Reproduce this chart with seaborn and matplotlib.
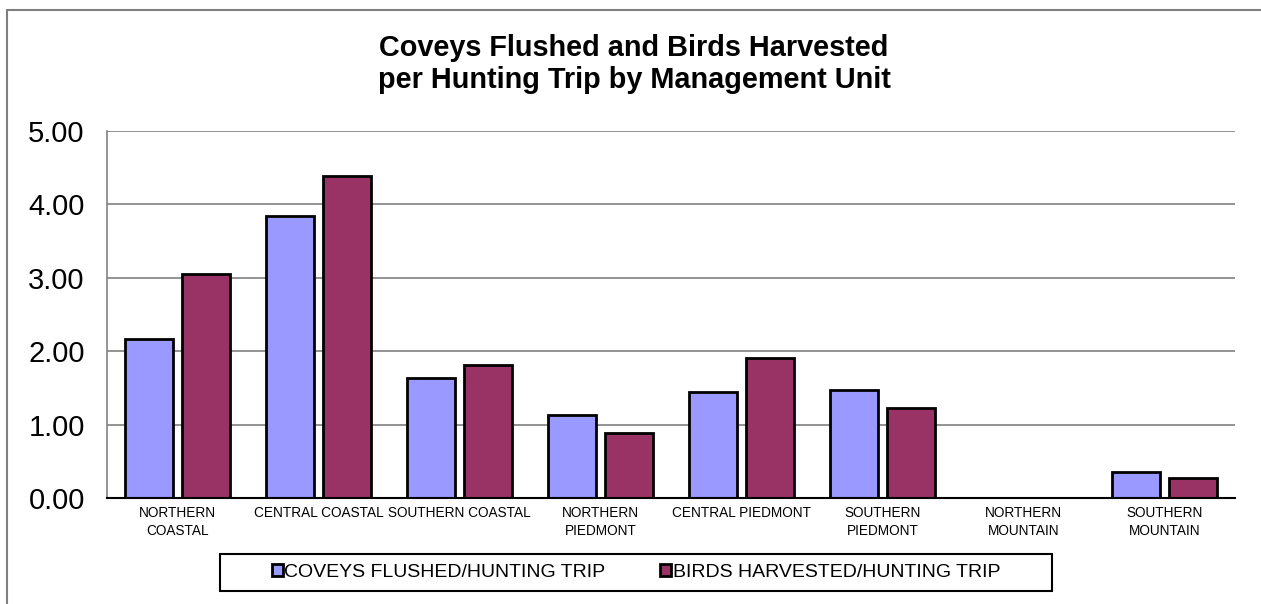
import matplotlib
matplotlib.use("Agg")
import matplotlib.pyplot as plt
import seaborn as sns
import pandas as pd
from matplotlib.patches import Rectangle

categories = ["NORTHERN\nCOASTAL", "CENTRAL COASTAL", "SOUTHERN COASTAL", "NORTHERN\nPIEDMONT",
              "CENTRAL PIEDMONT", "SOUTHERN\nPIEDMONT", "NORTHERN\nMOUNTAIN", "SOUTHERN\nMOUNTAIN"]
coveys = [2.16, 3.84, 1.64, 1.13, 1.44, 1.47, 0.0, 0.36]
birds = [3.05, 4.39, 1.81, 0.88, 1.91, 1.23, 0.0, 0.27]
series_names = ["COVEYS FLUSHED/HUNTING TRIP", "BIRDS HARVESTED/HUNTING TRIP"]
yticks = [0.0, 1.0, 2.0, 3.0, 4.0, 5.0]
ytick_labels = ["0.00", "1.00", "2.00", "3.00", "4.00", "5.00"]
title = "Coveys Flushed and Birds Harvested\nper Hunting Trip by Management Unit"

df = pd.DataFrame({
    "unit": categories * 2,
    "value": coveys + birds,
    "series": [series_names[0]] * len(categories) + [series_names[1]] * len(categories),
})

sns.set_theme(style="white")
plt.rcParams["font.family"] = ["Liberation Sans", "DejaVu Sans"]
plt.rcParams["text.color"] = "black"
plt.rcParams["xtick.color"] = "black"
plt.rcParams["ytick.color"] = "black"
plt.rcParams["axes.labelcolor"] = "black"

W, H = 1261, 604
fig = plt.figure(figsize=(W / 100, H / 100), dpi=100)
fig.patch.set_facecolor("white")
ax = fig.add_axes([107 / W, 1 - 498 / H, (1235 - 107) / W, (498 - 131) / H])

sns.barplot(data=df, x="unit", y="value", hue="series", order=categories,
            hue_order=series_names, palette=["#9999FF", "#993366"],
            width=0.82, gap=0.17, edgecolor="black", linewidth=2.0,
            saturation=1, ax=ax, legend=True, zorder=3)

ax.set_ylim(0, 5)
ax.set_xlim(-0.5, len(categories) - 0.5)
ax.set_yticks(yticks)
ax.set_yticklabels(ytick_labels, fontsize=21, color="black")
ax.tick_params(axis="y", length=0, pad=16)
ax.tick_params(axis="x", length=0, pad=6, labelsize=9.8)
for t in ax.get_xticklabels():
    t.set_linespacing(1.3)
    t.set_color("black")
ax.set_xlabel("")
ax.set_ylabel("")
ax.yaxis.grid(True, color="#808080", linewidth=1.2, zorder=0)
ax.set_axisbelow(True)
for s in ["top", "right"]:
    ax.spines[s].set_visible(False)
ax.spines["left"].set_color("#808080")
ax.spines["left"].set_linewidth(1.2)
ax.spines["bottom"].set_color("black")
ax.spines["bottom"].set_linewidth(1.5)
ax.spines["bottom"].set_zorder(4)

handles, labels = ax.get_legend_handles_labels()
ax.get_legend().remove()
leg = fig.legend(handles, labels, loc="center", bbox_to_anchor=(636 / W, 1 - 572.5 / H),
                 ncol=2, frameon=False, fontsize=14, handlelength=0.55, handleheight=0.55,
                 handletextpad=0.1, columnspacing=2.8)
for t in leg.get_texts():
    t.set_color("black")
fig.patches.append(Rectangle((220 / W, 1 - 591 / H), (1052 - 220) / W, 37 / H,
                             transform=fig.transFigure, fill=False, edgecolor="black",
                             linewidth=1.5, zorder=1))

# outer chart frame (cut off at right and bottom, as in reference)
fig.patches.append(Rectangle((7 / W, -0.05), 1.2, 1 - 10 / H + 0.05,
                             transform=fig.transFigure, fill=False, edgecolor="#808080",
                             linewidth=1.5, zorder=0))

fig.text(634 / W, 1 - 64 / H, title, ha="center", va="center", fontsize=20.8,
         fontweight="bold", linespacing=1.15, color="black")

fig.savefig("out.png", dpi=100)
